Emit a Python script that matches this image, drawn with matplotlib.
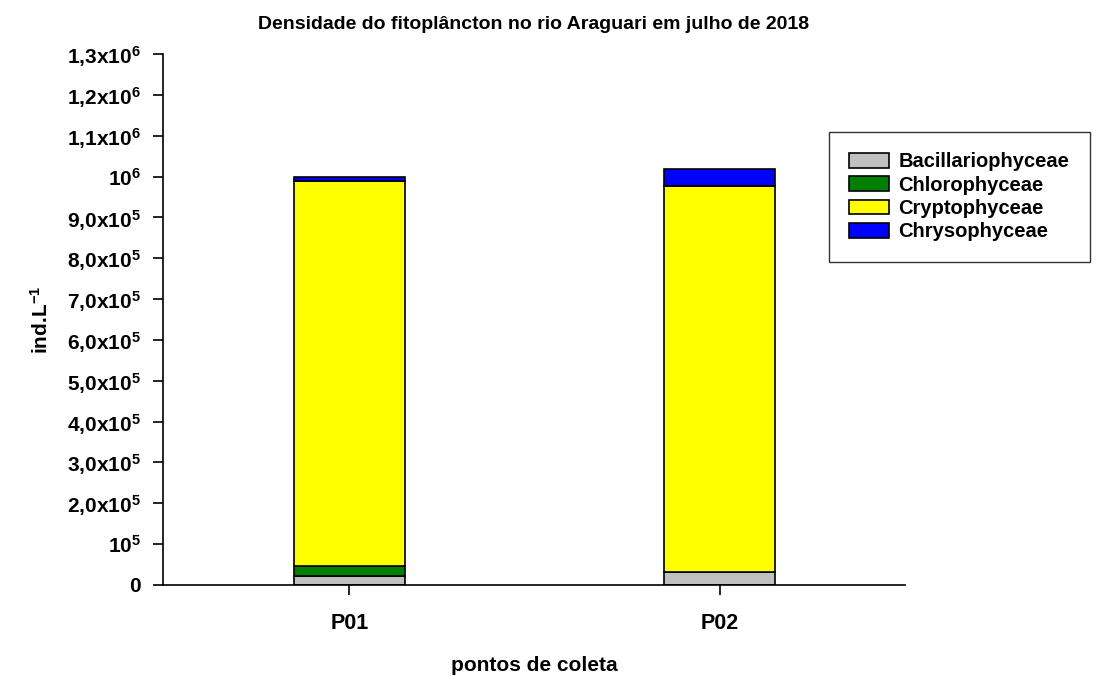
import matplotlib.pyplot as plt
import numpy as np

plt.rcParams['font.family'] = ['Liberation Sans', 'DejaVu Sans']
plt.rcParams['mathtext.fontset'] = 'custom'
plt.rcParams['mathtext.rm'] = 'Liberation Sans:bold'
plt.rcParams['mathtext.it'] = 'Liberation Sans:bold'
plt.rcParams['mathtext.bf'] = 'Liberation Sans:bold'

# densidade por classe (ind/L)
pontos = ['P01', 'P02']
bacillariophyceae = [23000, 32000]
chlorophyceae = [24000, 0]
cryptophyceae = [943000, 945000]
chrysophyceae = [8000, 41000]

classes = ['Bacillariophyceae', 'Chlorophyceae', 'Cryptophyceae', 'Chrysophyceae']
cores = ['#c0c0c0', '#008000', '#ffff00', '#0000ff']

yticks = [i * 1e5 for i in range(14)]
ytick_labels = ['0', '10$^{5}$', '2,0x10$^{5}$', '3,0x10$^{5}$', '4,0x10$^{5}$',
                '5,0x10$^{5}$', '6,0x10$^{5}$', '7,0x10$^{5}$', '8,0x10$^{5}$',
                '9,0x10$^{5}$', '10$^{6}$', '1,1x10$^{6}$', '1,2x10$^{6}$', '1,3x10$^{6}$']

fig = plt.figure(figsize=(11.01, 6.77), dpi=100)
ax = fig.add_axes([0.148, 0.136, 0.674, 0.784])

x = np.arange(len(pontos))
base = np.zeros(len(pontos))
for nome, vals, cor in zip(classes, [bacillariophyceae, chlorophyceae, cryptophyceae, chrysophyceae], cores):
    ax.bar(x, vals, width=0.3, bottom=base, color=cor, edgecolor='black', linewidth=1.2, label=nome)
    base += np.array(vals)

ax.set_xlim(-0.503, 1.50)
ax.set_ylim(0, 1.3e6)
ax.set_xticks(x)
ax.set_xticklabels(pontos, fontsize=15.5, fontweight='bold')
ax.set_yticks(yticks)
ax.set_yticklabels(ytick_labels, fontsize=15, fontweight='bold')
ax.tick_params(direction='out', length=7, width=1.2)
ax.tick_params(axis='y', pad=9)
ax.tick_params(axis='x', pad=13)
ax.spines['top'].set_visible(False)
ax.spines['right'].set_visible(False)
ax.spines['left'].set_linewidth(1.2)
ax.spines['bottom'].set_linewidth(1.2)

ax.set_title('Densidade do fitoplâncton no rio Araguari em julho de 2018',
             fontsize=14, fontweight='bold', pad=18)
ax.set_xlabel('pontos de coleta', fontsize=15, fontweight='bold', va='center')
ax.xaxis.set_label_coords(0.5, -0.151)
ax.set_ylabel('ind.L$^{-1}$', fontsize=15, fontweight='bold', va='center')
ax.yaxis.set_label_coords(-0.164, 0.5)

leg = fig.legend(loc='upper left', bbox_to_anchor=(0.753, 0.805),
                 prop={'weight': 'bold', 'size': 14.5}, frameon=True, fancybox=False,
                 edgecolor='black', handlelength=2.0, handleheight=0.75,
                 handletextpad=0.45, borderpad=1.0, labelspacing=0.22,
                 borderaxespad=0)
leg.get_frame().set_linewidth(1.0)

fig.savefig('out.png', dpi=100)
